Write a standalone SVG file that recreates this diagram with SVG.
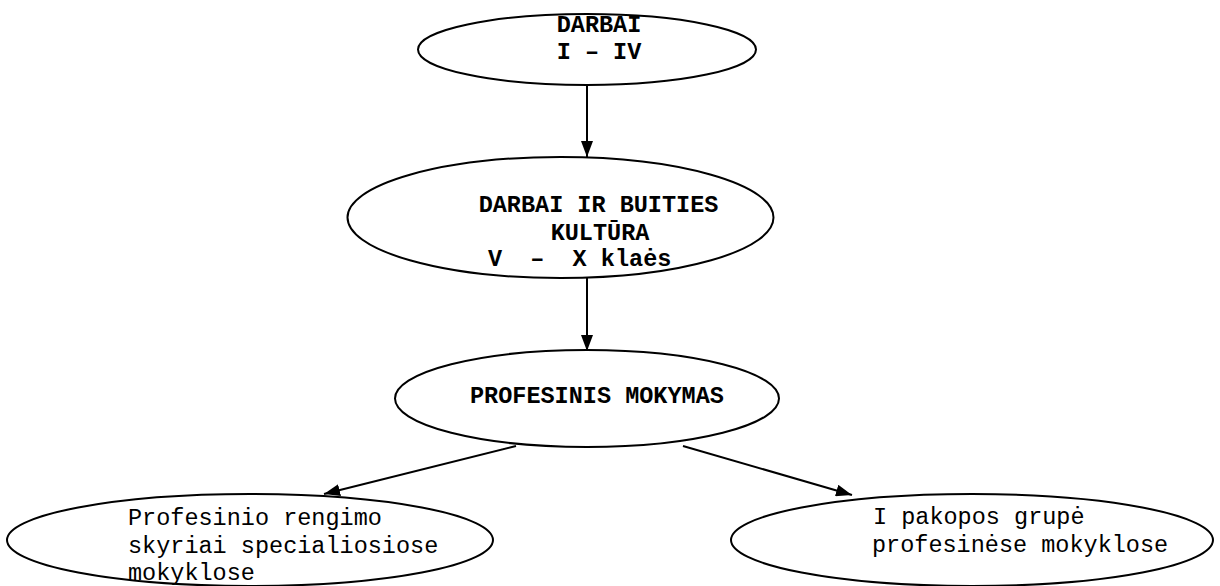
<svg xmlns="http://www.w3.org/2000/svg" width="1220" height="586" viewBox="0 0 1220 586">
<style>
.n{fill:#fff;stroke:#000;stroke-width:2}
.t{font-family:"Courier New","Liberation Mono",monospace;font-size:23.5px;fill:#000}
.b{font-weight:bold}
.c{stroke:#000;stroke-width:2;fill:none}
</style>
<defs>
<marker id="ah" markerWidth="16" markerHeight="12" refX="16" refY="6" orient="auto" markerUnits="userSpaceOnUse">
<path d="M0,0 L16,6 L0,12 Z" fill="#000"/>
</marker>
</defs>
<rect width="1220" height="586" fill="#fff"/>
<g id="connectors">
<line class="c" x1="587" y1="86" x2="587" y2="157" marker-end="url(#ah)"/>
<line class="c" x1="587" y1="278" x2="587" y2="351" marker-end="url(#ah)"/>
<line class="c" x1="516" y1="446" x2="324" y2="494" marker-end="url(#ah)"/>
<line class="c" x1="683" y1="446" x2="852" y2="495" marker-end="url(#ah)"/>
</g>
<g id="n1">
<ellipse class="n" cx="587" cy="49.5" rx="169" ry="35.5"/>
<text class="t b" x="599" y="32" text-anchor="middle">DARBAI</text>
<text class="t b" x="599" y="59" text-anchor="middle">I – IV</text>
</g>
<g id="n2">
<ellipse class="n" cx="560.5" cy="217.5" rx="213" ry="60.5"/>
<text class="t b" x="598.5" y="212" text-anchor="middle">DARBAI IR BUITIES</text>
<text class="t b" x="600" y="240" text-anchor="middle">KULTŪRA</text>
<text class="t b" x="488" y="266" xml:space="preserve">V  –  X klaės</text>
</g>
<g id="n3">
<ellipse class="n" cx="587" cy="398.5" rx="192" ry="48.5"/>
<text class="t b" x="470" y="403">PROFESINIS MOKYMAS</text>
</g>
<g id="n4">
<ellipse class="n" cx="250" cy="540" rx="243" ry="46"/>
<text class="t" x="128" y="525">Profesinio rengimo</text>
<text class="t" x="128" y="553">skyriai specialiosiose</text>
<text class="t" x="128" y="580">mokyklose</text>
</g>
<g id="n5">
<ellipse class="n" cx="972" cy="540" rx="241" ry="46"/>
<text class="t" x="873" y="524">I pakopos grupė</text>
<text class="t" x="872" y="552">profesinėse mokyklose</text>
</g>
</svg>
